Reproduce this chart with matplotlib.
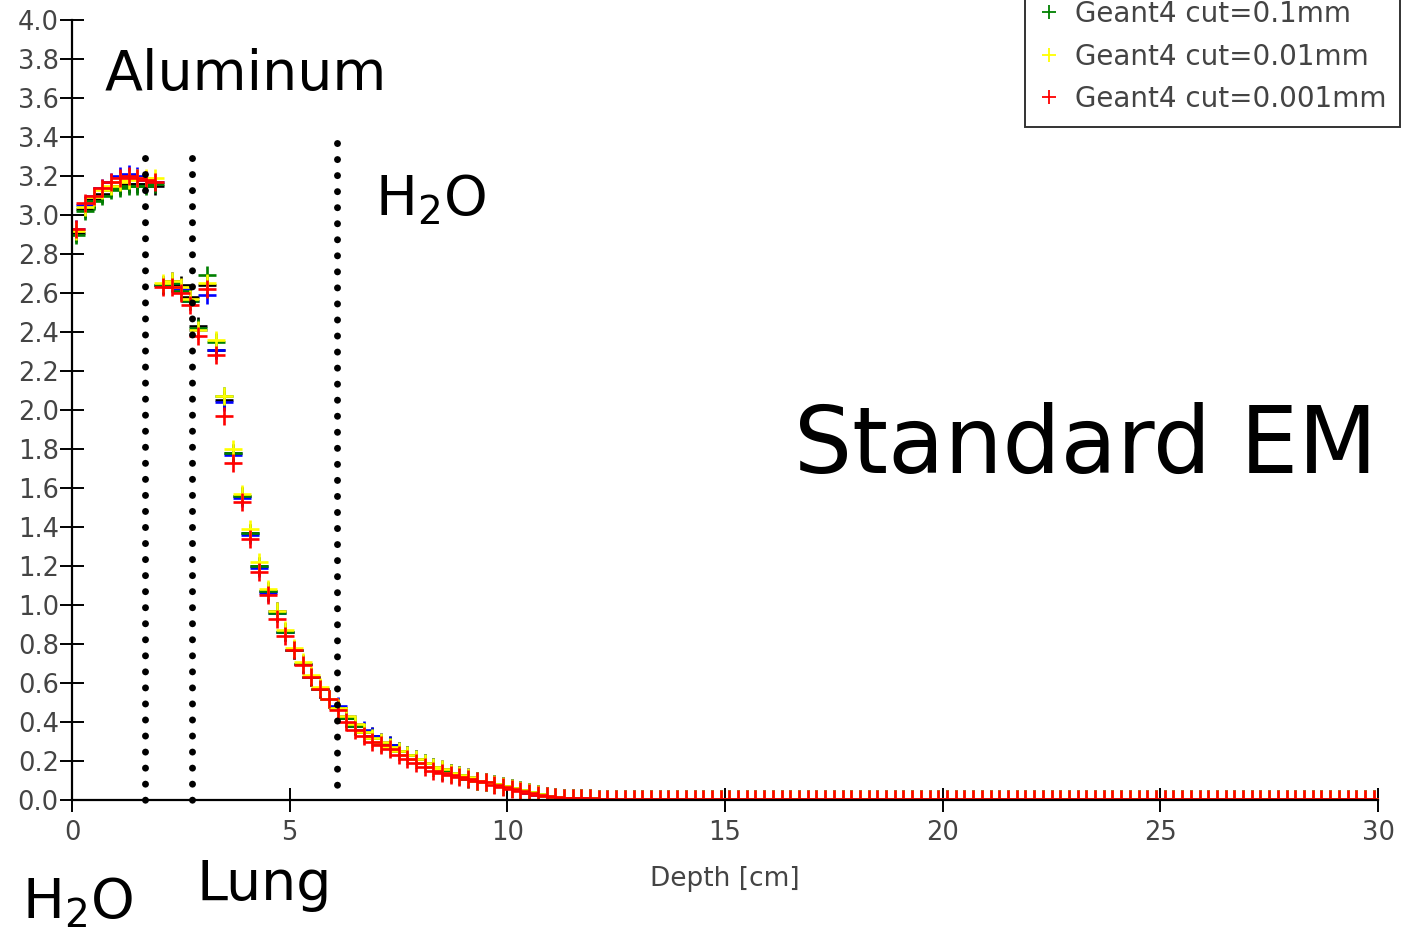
import numpy as np
import matplotlib
matplotlib.use("Agg")
import matplotlib.pyplot as plt

# ---------------- data ----------------
bin_width = 0.2
depth_start = 0.1  # first bin centre [cm]

labels = ["_nolegend_", "_nolegend_", "Geant4 cut=0.1mm",
          "Geant4 cut=0.01mm", "Geant4 cut=0.001mm"]
colors = ["#000000", "#0000ff", "#008000", "#ffff00", "#ff0000"]

dose_10mm = [2.91, 3.03, 3.08, 3.11, 3.14, 3.15, 3.16, 3.16, 3.16, 3.15,
             2.64, 2.66, 2.64, 2.58, 2.43, 2.64, 2.31, 2.05, 1.78, 1.56,
             1.37, 1.20, 1.07, 0.97, 0.86, 0.77, 0.70, 0.63, 0.57, 0.52,
             0.47, 0.42, 0.38, 0.35, 0.33, 0.30, 0.28, 0.25, 0.23, 0.21,
             0.19, 0.17, 0.16, 0.14, 0.13, 0.12, 0.10, 0.09, 0.08, 0.07,
             0.06, 0.05, 0.04, 0.03, 0.02, 0.014, 0.011, 0.010]
dose_1mm = [2.93, 3.05, 3.10, 3.14, 3.17, 3.20, 3.21, 3.20, 3.18, 3.17,
            2.64, 2.65, 2.62, 2.56, 2.41, 2.59, 2.31, 2.04, 1.77, 1.55,
            1.36, 1.19, 1.06, 0.96, 0.86, 0.77, 0.70, 0.63, 0.57, 0.52,
            0.48, 0.43, 0.39, 0.36, 0.33, 0.30, 0.28, 0.25, 0.23, 0.21,
            0.19, 0.17, 0.15, 0.14, 0.13, 0.12, 0.10, 0.09, 0.08, 0.07,
            0.06, 0.05, 0.035, 0.028, 0.02, 0.013, 0.011, 0.009]
dose_01mm = [2.90, 3.02, 3.07, 3.10, 3.13, 3.14, 3.15, 3.15, 3.15, 3.16,
             2.64, 2.65, 2.61, 2.56, 2.42, 2.69, 2.35, 2.07, 1.78, 1.56,
             1.37, 1.20, 1.07, 0.96, 0.86, 0.77, 0.70, 0.63, 0.57, 0.52,
             0.47, 0.42, 0.38, 0.35, 0.32, 0.29, 0.27, 0.25, 0.23, 0.21,
             0.19, 0.17, 0.15, 0.14, 0.13, 0.11, 0.10, 0.09, 0.08, 0.07,
             0.06, 0.05, 0.04, 0.03, 0.022, 0.016, 0.012, 0.010]
dose_001mm = [2.92, 3.04, 3.09, 3.13, 3.15, 3.17, 3.18, 3.19, 3.19, 3.19,
              2.65, 2.66, 2.63, 2.57, 2.41, 2.65, 2.36, 2.07, 1.80, 1.57,
              1.39, 1.22, 1.08, 0.97, 0.87, 0.78, 0.71, 0.64, 0.58, 0.52,
              0.47, 0.43, 0.39, 0.35, 0.32, 0.30, 0.27, 0.25, 0.23, 0.21,
              0.19, 0.17, 0.16, 0.14, 0.13, 0.12, 0.10, 0.09, 0.08, 0.07,
              0.06, 0.05, 0.04, 0.03, 0.02, 0.015, 0.012, 0.010]
dose_0001mm = [2.93, 3.06, 3.10, 3.14, 3.17, 3.19, 3.20, 3.19, 3.18, 3.17,
               2.63, 2.63, 2.60, 2.54, 2.38, 2.62, 2.28, 1.97, 1.73, 1.53,
               1.34, 1.17, 1.05, 0.93, 0.84, 0.77, 0.69, 0.63, 0.57, 0.52,
               0.46, 0.40, 0.36, 0.33, 0.30, 0.28, 0.26, 0.23, 0.21, 0.19,
               0.17, 0.15, 0.14, 0.13, 0.12, 0.11, 0.10, 0.09, 0.075, 0.065,
               0.055, 0.045, 0.035, 0.027, 0.018, 0.014, 0.012, 0.010]

# beyond ~11.7 cm every series sits at ~0 (shared tail, 92 bins)
dose_tail = [0.008, 0.008, 0.007, 0.007, 0.007, 0.007, 0.007, 0.007, 0.007, 0.007,
             0.007, 0.007, 0.007, 0.007, 0.007, 0.007, 0.007, 0.007, 0.007, 0.007,
             0.007, 0.007, 0.007, 0.007, 0.007, 0.007, 0.007, 0.007, 0.007, 0.007,
             0.007, 0.007, 0.007, 0.007, 0.007, 0.007, 0.007, 0.007, 0.007, 0.007,
             0.007, 0.007, 0.007, 0.007, 0.007, 0.007, 0.007, 0.007, 0.007, 0.007,
             0.007, 0.007, 0.007, 0.007, 0.007, 0.007, 0.007, 0.007, 0.007, 0.007,
             0.007, 0.007, 0.007, 0.007, 0.007, 0.007, 0.007, 0.007, 0.007, 0.007,
             0.007, 0.007, 0.007, 0.007, 0.007, 0.007, 0.007, 0.007, 0.007, 0.007,
             0.007, 0.007, 0.007, 0.007, 0.007, 0.007, 0.007, 0.007, 0.007, 0.007,
             0.007, 0.007]

series = [dose_10mm, dose_1mm, dose_01mm, dose_001mm, dose_0001mm]

boundaries = [1.68, 2.76, 6.09]      # material interfaces [cm]
boundary_tops = [3.29, 3.29, 3.37]

x_ticks = [0, 5, 10, 15, 20, 25, 30]
y_ticks = [0.0, 0.2, 0.4, 0.6, 0.8, 1.0, 1.2, 1.4, 1.6, 1.8, 2.0,
           2.2, 2.4, 2.6, 2.8, 3.0, 3.2, 3.4, 3.6, 3.8, 4.0]

# ---------------- figure ----------------
W, H = 1401, 934
fig = plt.figure(figsize=(W / 100, H / 100), dpi=100)
ax = fig.add_axes([72 / W, 1 - 800 / H, (1378 - 72) / W, (800 - 20) / H])

tick_color = "#444444"
for vals, col, lab in zip(series, colors, labels):
    y = np.array(vals + dose_tail)
    x = depth_start + bin_width * np.arange(len(y))
    ax.plot(x, y, linestyle="none", marker="+", markersize=13,
            markeredgewidth=1.9, color=col, label=lab)

for xb, yt in zip(boundaries, boundary_tops):
    ax.plot([xb, xb], [yt, 0.0], color="black", linewidth=5,
            linestyle=(0, (0.01, 2.3)), dash_capstyle="round", zorder=5,
            clip_on=False)

ax.set_xlim(0, 30)
ax.set_ylim(0, 4.0)
ax.set_xticks(x_ticks)
ax.set_xticklabels([str(v) for v in x_ticks])
ax.set_yticks(y_ticks)
ax.set_yticklabels([f"{v:.1f}" for v in y_ticks])
for s in ["top", "right"]:
    ax.spines[s].set_visible(False)
for s in ["left", "bottom"]:
    ax.spines[s].set_linewidth(1.6)
    ax.spines[s].set_color("black")
ax.tick_params(axis="both", direction="inout", length=17, width=1.4,
               color="black", labelcolor=tick_color, labelsize=18.5)
ax.tick_params(axis="x", pad=6)
ax.tick_params(axis="y", pad=1)
ax.set_xlabel("Depth [cm]", fontsize=19, color=tick_color, labelpad=14)

leg = ax.legend(loc="lower right", bbox_to_anchor=(1400 / W, 1 - 127 / H),
                bbox_transform=fig.transFigure, fontsize=20, frameon=True,
                fancybox=False, edgecolor="black", handlelength=0.75,
                handletextpad=0.55, labelspacing=0.52, borderpad=0.5,
                borderaxespad=0, markerscale=0.8)
leg.get_frame().set_linewidth(1.4)
for t in leg.get_texts():
    t.set_color(tick_color)
for h in leg.legend_handles:
    h.set_markeredgewidth(1.3)

# annotations
fig.text(105 / W, 1 - 90 / H, "Aluminum", fontsize=40, ha="left", va="baseline")
fig.text(375 / W, 1 - 215 / H, "H$_2$O", fontsize=40, ha="left", va="baseline")
fig.text(1086 / W, 1 - 473 / H, "Standard EM", fontsize=66, ha="center", va="baseline")
fig.text(22 / W, 1 - 918 / H, "H$_2$O", fontsize=40, ha="left", va="baseline")
fig.text(197 / W, 1 - 900 / H, "Lung", fontsize=40, ha="left", va="baseline")

fig.savefig("out.png", dpi=100)
